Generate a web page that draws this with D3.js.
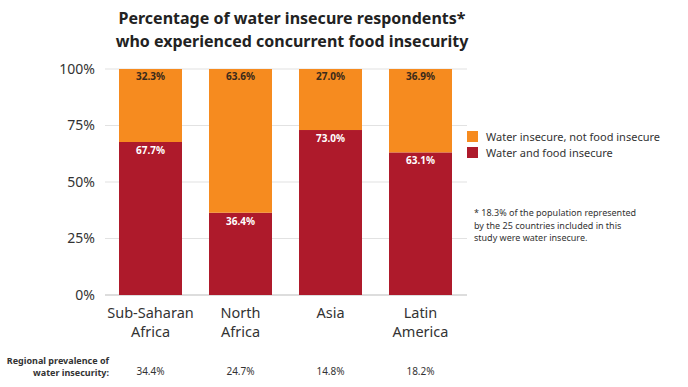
<!DOCTYPE html>
<html>
<head>
<meta charset="utf-8">
<script src="https://cdn.jsdelivr.net/npm/d3@7"></script>
<style>
  body { margin: 0; background: #fff; }
  text { font-family: "Noto Sans", sans-serif; }
</style>
</head>
<body>
<div id="vis-container"></div>
<script>
// data
const regions = [["Sub-Saharan", "Africa"], ["North", "Africa"], ["Asia"], ["Latin", "America"]];
const bothInsecure = [67.7, 36.4, 73.0, 63.1];
const waterOnly = [32.3, 63.6, 27.0, 36.9];
const prevalence = ["34.4%", "24.7%", "14.8%", "18.2%"];
const yTicks = [0, 25, 50, 75, 100];
const legendLabels = ["Water insecure, not food insecure", "Water and food insecure"];
const colors = ["#F68B1F", "#AE1A2B"];

const width = 688, height = 387;

const svg = d3.select("#vis-container")
  .append("svg")
    .attr("width", width)
    .attr("height", height);

// scales
const x = d3.scaleBand()
  .domain(d3.range(regions.length))
  .range([105.5, 465.5])
  .paddingInner(0.3)
  .paddingOuter(0.15);

const y = d3.scaleLinear()
  .domain([0, 100])
  .range([295, 69]);

// title
svg.append("text")
  .attr("x", 292).attr("y", 24)
  .attr("text-anchor", "middle")
  .style("font-size", "16px").style("font-weight", "700").style("fill", "#222")
  .selectAll("tspan")
  .data(["Percentage of water insecure respondents*", "who experienced concurrent food insecurity"])
  .enter().append("tspan")
    .attr("x", 292)
    .attr("dy", (d, i) => i ? 23 : 0)
    .text(d => d);

// gridlines
svg.append("g")
  .selectAll("line")
  .data(yTicks)
  .enter().append("line")
    .attr("x1", 105).attr("x2", 467)
    .attr("y1", d => y(d)).attr("y2", d => y(d))
    .attr("stroke", d => d === 0 ? "#bbb" : "#e2e2e2")
    .attr("stroke-width", 1.2);

// y axis labels
const yAxis = svg.append("g")
  .attr("transform", "translate(98,0)")
  .call(d3.axisLeft(y).tickValues(yTicks).tickSize(0).tickFormat(d => d + "%"));
yAxis.select(".domain").remove();
yAxis.selectAll("text")
  .style("font-family", "Noto Sans, sans-serif")
  .style("font-size", "14px").style("fill", "#333");

// bars
const bars = svg.append("g");
bars.selectAll("rect.both")
  .data(bothInsecure)
  .enter().append("rect")
    .attr("class", "both")
    .attr("x", (d, i) => x(i))
    .attr("width", x.bandwidth())
    .attr("y", d => y(d))
    .attr("height", d => y(0) - y(d))
    .attr("fill", colors[1]);

bars.selectAll("rect.water")
  .data(waterOnly)
  .enter().append("rect")
    .attr("class", "water")
    .attr("x", (d, i) => x(i))
    .attr("width", x.bandwidth())
    .attr("y", y(100))
    .attr("height", (d, i) => y(bothInsecure[i]) - y(100))
    .attr("fill", colors[0]);

// value labels
svg.selectAll("text.top")
  .data(waterOnly)
  .enter().append("text")
    .attr("class", "top")
    .attr("x", (d, i) => x(i) + x.bandwidth() / 2)
    .attr("y", y(100) + 11)
    .attr("text-anchor", "middle")
    .style("font-size", "10px").style("font-weight", "700").style("fill", "#3a2a1a")
    .text(d => d.toFixed(1) + "%");

svg.selectAll("text.low")
  .data(bothInsecure)
  .enter().append("text")
    .attr("class", "low")
    .attr("x", (d, i) => x(i) + x.bandwidth() / 2)
    .attr("y", d => y(d) + 12)
    .attr("text-anchor", "middle")
    .style("font-size", "10px").style("font-weight", "700").style("fill", "#fff")
    .text(d => d.toFixed(1) + "%");

// category labels
svg.selectAll("text.cat")
  .data(regions)
  .enter().append("text")
    .attr("class", "cat")
    .attr("x", (d, i) => x(i) + x.bandwidth() / 2)
    .attr("y", 318)
    .attr("text-anchor", "middle")
    .style("font-size", "14.5px").style("fill", "#333")
    .each(function(d, i) {
      d3.select(this).selectAll("tspan")
        .data(d)
        .enter().append("tspan")
          .attr("x", x(i) + x.bandwidth() / 2)
          .attr("dy", (t, j) => j ? 19 : 0)
          .text(t => t);
    });

// regional prevalence row
svg.append("text")
  .attr("x", 109).attr("y", 364)
  .attr("text-anchor", "end")
  .style("font-size", "9px").style("font-weight", "700").style("fill", "#333")
  .selectAll("tspan")
  .data(["Regional prevalence of", "water insecurity:"])
  .enter().append("tspan")
    .attr("x", 109)
    .attr("dy", (d, i) => i ? 12 : 0)
    .text(d => d);

svg.selectAll("text.prev")
  .data(prevalence)
  .enter().append("text")
    .attr("class", "prev")
    .attr("x", (d, i) => x(i) + x.bandwidth() / 2)
    .attr("y", 375)
    .attr("text-anchor", "middle")
    .style("font-size", "10px").style("fill", "#333")
    .text(d => d);

// legend
const legend = svg.append("g").attr("transform", "translate(467,131)");
legendLabels.forEach((lab, i) => {
  legend.append("rect")
    .attr("x", 0).attr("y", i * 16)
    .attr("width", 11).attr("height", 11)
    .attr("fill", colors[i]);
  legend.append("text")
    .attr("x", 19).attr("y", i * 16 + 10)
    .style("font-size", "11px").style("fill", "#333")
    .text(lab);
});

// footnote
svg.append("text")
  .attr("x", 474).attr("y", 216)
  .style("font-size", "9px").style("fill", "#333")
  .selectAll("tspan")
  .data(["* 18.3% of the population represented", "by the 25 countries included in this", "study were water insecure."])
  .enter().append("tspan")
    .attr("x", 474)
    .attr("dy", (d, i) => i ? 12.5 : 0)
    .text(d => d);
</script>
</body>
</html>
